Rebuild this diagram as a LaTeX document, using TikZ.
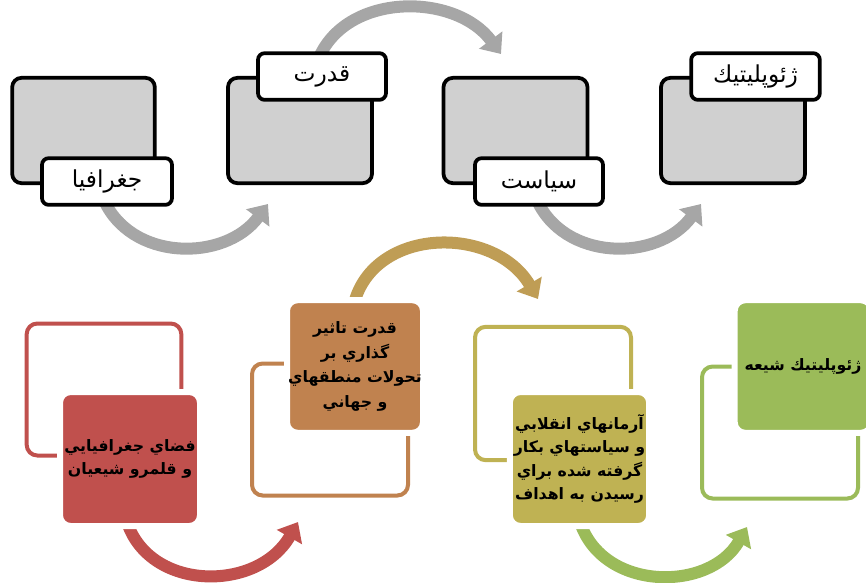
\documentclass[tikz,border=0pt]{standalone}
\usepackage{fontspec}
\usetikzlibrary{arrows.meta,shadows}
\TeXXeTstate=1
\newfontfamily\arabicfont[Script=Arabic]{DejaVu Sans}
\definecolor{arrgray}{HTML}{A6A6A6}
\definecolor{boxgray}{HTML}{D0D0D0}
\definecolor{cred}{HTML}{C0504D}
\definecolor{cbrown}{HTML}{C0824F}
\definecolor{colive}{HTML}{BFB253}
\definecolor{cgreen}{HTML}{9BBB59}
\definecolor{ctan}{HTML}{BF9D55}
\tikzset{
  graybox/.style={draw=black, fill=boxgray, line width=2.8pt, rounded corners=7pt, inner sep=0pt},
  labelbox/.style={draw=black, fill=white, line width=2.8pt, rounded corners=5pt, inner sep=0pt, font=\arabicfont\fontsize{17.5}{20}\selectfont},
  outlinebox/.style={draw=#1, fill=white, line width=3pt, rounded corners=8pt, inner sep=0pt},
  fillbox/.style={fill=#1, draw=white, line width=4.5pt, rounded corners=8pt, inner sep=0pt, align=center,
     drop shadow={shadow xshift=1.2pt, shadow yshift=-1.2pt, opacity=0.25, fill=gray},
     font=\arabicfont\bfseries\fontsize{11.8}{17.5}\selectfont},
  bigarrow/.style={draw=#1, line width=9pt, -{Triangle[width=21pt,length=13pt]}}
}
\begin{document}
\begin{tikzpicture}[x=0.75pt,y=-0.75pt]
\useasboundingbox (0,0) rectangle (866,582);
% arrow anchor coordinates
\coordinate (s1) at (103,198);
\coordinate (e1) at (268,204);
\coordinate (s2) at (318,60);
\coordinate (e2) at (501,54);
\coordinate (s3) at (536,198);
\coordinate (e3) at (701,204);
\coordinate (sa) at (127,522);
\coordinate (ea) at (298,522);
\coordinate (sb) at (355,300);
\coordinate (eb) at (538,299);
\coordinate (sc) at (580,522);
\coordinate (ec) at (747,527);
% top arrows
\draw[bigarrow=arrgray] (s1) .. controls (130,262) and (225,262) .. (e1);
\draw[bigarrow=arrgray] (s2) .. controls (345,-8) and (455,-8) .. (e2);
\draw[bigarrow=arrgray] (s3) .. controls (563,262) and (658,262) .. (e3);
% bottom arrows
\draw[bigarrow=cred] (sa) .. controls (150,592) and (258,592) .. (ea);
\draw[bigarrow=ctan] (sb) .. controls (378,226) and (495,226) .. (eb);
\draw[bigarrow=cgreen] (sc) .. controls (603,592) and (710,592) .. (ec);
% top boxes
\node[graybox, minimum width=107pt, minimum height=79pt] (g1) at (83.5,130.5) {};
\node[labelbox, minimum width=97.5pt, minimum height=35pt] (l1) at (107,181.5) {\beginR جغرافيا\endR};
\node[graybox, minimum width=108pt, minimum height=79pt] (g2) at (300,130.5) {};
\node[labelbox, minimum width=96pt, minimum height=35pt] (l2) at (322,76.5) {\beginR قدرت\endR};
\node[graybox, minimum width=108pt, minimum height=79pt] (g3) at (515.5,130.5) {};
\node[labelbox, minimum width=96pt, minimum height=35pt] (l3) at (539,181.5) {\beginR سياست\endR};
\node[graybox, minimum width=108pt, minimum height=79pt] (g4) at (733,130.5) {};
\node[labelbox, minimum width=96.5pt, minimum height=35pt] (l4) at (755.5,76.5) {\beginR ژئوپليتيك\endR};
% bottom boxes
\node[outlinebox=cred, minimum width=116pt, minimum height=99pt] (oa) at (104,389.5) {};
\node[fillbox=cred, minimum width=105pt, minimum height=100.5pt] (fa) at (130,459)
  {\beginR فضاي جغرافيايي\endR\\ \beginR و قلمرو شيعيان\endR};
\node[outlinebox=cbrown, minimum width=117pt, minimum height=99pt] (ob) at (330,429.5) {};
\node[fillbox=cbrown, minimum width=102pt, minimum height=99.5pt, font=\arabicfont\bfseries\fontsize{11.8}{18.5}\selectfont] (fb) at (355,366.5)
  {\beginR قدرت تاثير\endR\\ \beginR گذاري بر\endR\\ \beginR تحولات منطقهاي\endR\\ \beginR و جهاني\endR};
\node[outlinebox=colive, minimum width=117pt, minimum height=100pt] (oc) at (553,393.5) {};
\node[fillbox=colive, minimum width=104.5pt, minimum height=100.5pt] (fc) at (579.5,459)
  {\beginR آرمانهاي انقلابي\endR\\ \beginR و سياستهاي بكار\endR\\ \beginR گرفته شده براي\endR\\ \beginR رسيدن به اهداف\endR};
\node[outlinebox=cgreen, minimum width=117pt, minimum height=99pt] (od) at (780,432.5) {};
\node[fillbox=cgreen, minimum width=102.5pt, minimum height=99.5pt] (fd) at (803,366.5)
  {\beginR ژئوپليتيك شيعه\endR};
\end{tikzpicture}
\end{document}
